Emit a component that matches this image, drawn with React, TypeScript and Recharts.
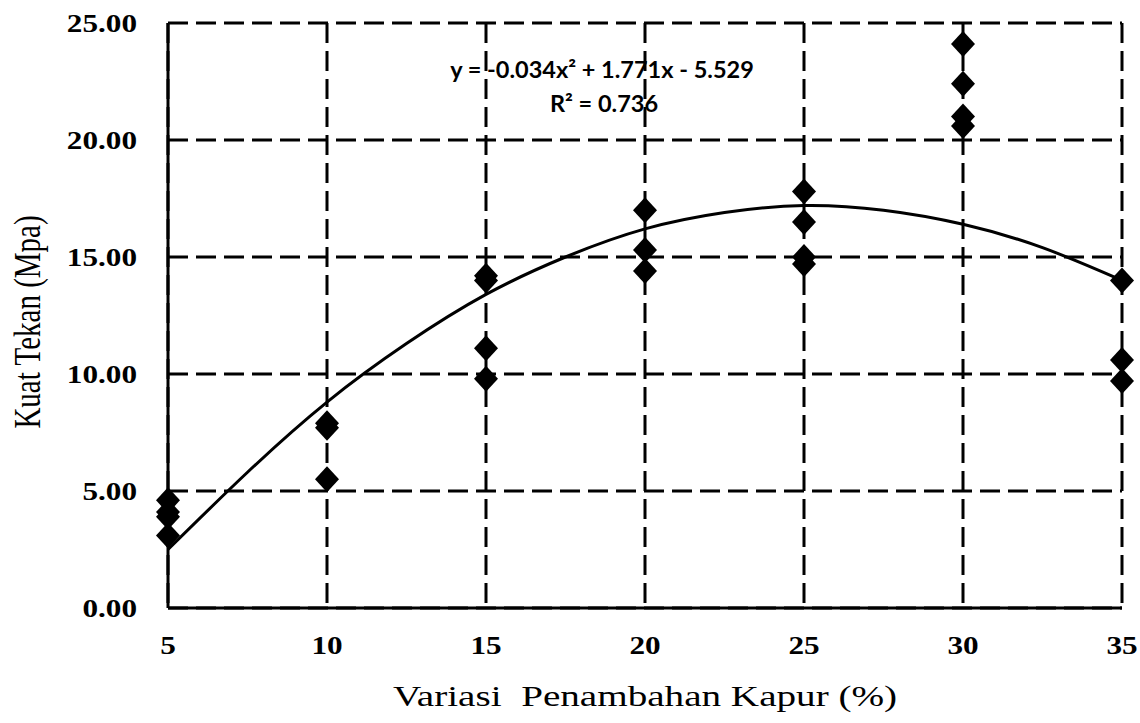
import React from "react";
import {
  ComposedChart,
  Scatter,
  Line,
  XAxis,
  YAxis,
  CartesianGrid,
} from "recharts";

// Kapur (%) categories and measured strengths (MPa)
const kapurLevels = [5, 10, 15, 20, 25, 30, 35];
const strength5 = [4.6, 4.1, 3.9, 3.1];
const strength10 = [7.9, 7.7, 5.5];
const strength15 = [14.2, 14.0, 11.1, 9.8];
const strength20 = [17.0, 15.3, 14.4];
const strength25 = [17.8, 16.5, 15.0, 14.7];
const strength30 = [24.1, 22.4, 21.0, 20.6];
const strength35 = [14.0, 10.6, 9.7];

// Trendline
const trendX = [5, 7.5, 10, 12.5, 15, 17.5, 20, 22.5, 25, 27.5, 30, 32.5, 35];
const trendY = [2.5, 5.8, 8.8, 11.3, 13.4, 15.0, 16.2, 16.9, 17.2, 17.0, 16.4, 15.4, 14.0];

const xTicks = [5, 10, 15, 20, 25, 30, 35];
const yTicks = [0, 5, 10, 15, 20, 25];

const equationText = "y = -0.034x² + 1.771x - 5.529";
const r2Text = "R² = 0.736";
const xTitle = "Variasi  Penambahan Kapur (%)";
const yTitle = "Kuat Tekan (Mpa)";

const groups = [strength5, strength10, strength15, strength20, strength25, strength30, strength35];
const points = groups.flatMap((vals, i) => vals.map((v) => ({ x: kapurLevels[i], y: v })));
const trend = trendX.map((x, i) => ({ x, y: trendY[i] }));

const SERIF = "'Liberation Serif', 'DejaVu Serif', serif";
const STRETCH = 1.2;

const Diamond = (props: any) => {
  const { cx, cy } = props;
  if (cx == null || cy == null) return null;
  const w = 12;
  const h = 13;
  return (
    <polygon
      points={`${cx},${cy - h} ${cx + w},${cy} ${cx},${cy + h} ${cx - w},${cy}`}
      fill="#000"
    />
  );
};

const YTick = (props: any) => {
  const { x, y, payload } = props;
  return (
    <text
      transform={`translate(${x},${y}) scale(${STRETCH},1)`}
      x={0}
      y={0}
      dy="0.35em"
      textAnchor="end"
      fontFamily={SERIF}
      fontWeight="bold"
      fontSize={26}
      fill="#000"
    >
      {Number(payload.value).toFixed(2)}
    </text>
  );
};

const XTick = (props: any) => {
  const { x, y, payload } = props;
  return (
    <text
      transform={`translate(${x},${y}) scale(${STRETCH},1)`}
      x={0}
      y={0}
      dy="0.71em"
      textAnchor="middle"
      fontFamily={SERIF}
      fontWeight="bold"
      fontSize={26}
      fill="#000"
    >
      {payload.value}
    </text>
  );
};

export default function App() {
  return (
    <div style={{ position: "absolute", left: 0, top: 0, width: 1140, height: 723, background: "#fff" }}>
      <ComposedChart
        width={1140}
        height={723}
        margin={{ top: 23, right: 18, bottom: 0, left: 0 }}
      >
        <CartesianGrid
          stroke="#000"
          strokeWidth={3}
          strokeDasharray="20 8"
          horizontal
          vertical
        />
        <XAxis
          type="number"
          dataKey="x"
          domain={[5, 35]}
          ticks={xTicks}
          height={115}
          tickLine={false}
          tickSize={0}
          tickMargin={28}
          axisLine={{ stroke: "#000", strokeWidth: 3 }}
          tick={<XTick />}
        />
        <YAxis
          type="number"
          dataKey="y"
          domain={[0, 25]}
          ticks={yTicks}
          width={168}
          tickLine={false}
          tickSize={0}
          tickMargin={31}
          axisLine={{ stroke: "#000", strokeWidth: 3 }}
          tick={<YTick />}
        />
        <Line
          data={trend}
          dataKey="y"
          type="natural"
          stroke="#000"
          strokeWidth={3}
          dot={false}
          activeDot={false}
          isAnimationActive={false}
        />
        <Scatter
          data={points}
          dataKey="y"
          shape={<Diamond />}
          isAnimationActive={false}
        />
      </ComposedChart>
      <svg
        width={1140}
        height={723}
        style={{ position: "absolute", left: 0, top: 0, pointerEvents: "none" }}
      >
        <text
          x={602}
          y={78}
          textAnchor="middle"
          fontFamily="Lato, 'Open Sans', sans-serif"
          fontWeight="bold"
          fontSize={23.5}
          fill="#000"
        >
          {equationText}
        </text>
        <text
          x={604}
          y={112}
          textAnchor="middle"
          fontFamily="Lato, 'Open Sans', sans-serif"
          fontWeight="bold"
          fontSize={23.5}
          fill="#000"
        >
          {r2Text}
        </text>
        <text
          transform="translate(645,706) scale(1.35,1)"
          x={0}
          y={0}
          textAnchor="middle"
          fontFamily={SERIF}
          fontSize={29}
          fill="#000"
          style={{ whiteSpace: "pre" }}
        >
          {xTitle}
        </text>
        <text
          transform="translate(40,322) rotate(-90) scale(1,1.3)"
          x={0}
          y={0}
          textAnchor="middle"
          fontFamily={SERIF}
          fontSize={29}
          fill="#000"
        >
          {yTitle}
        </text>
      </svg>
    </div>
  );
}
